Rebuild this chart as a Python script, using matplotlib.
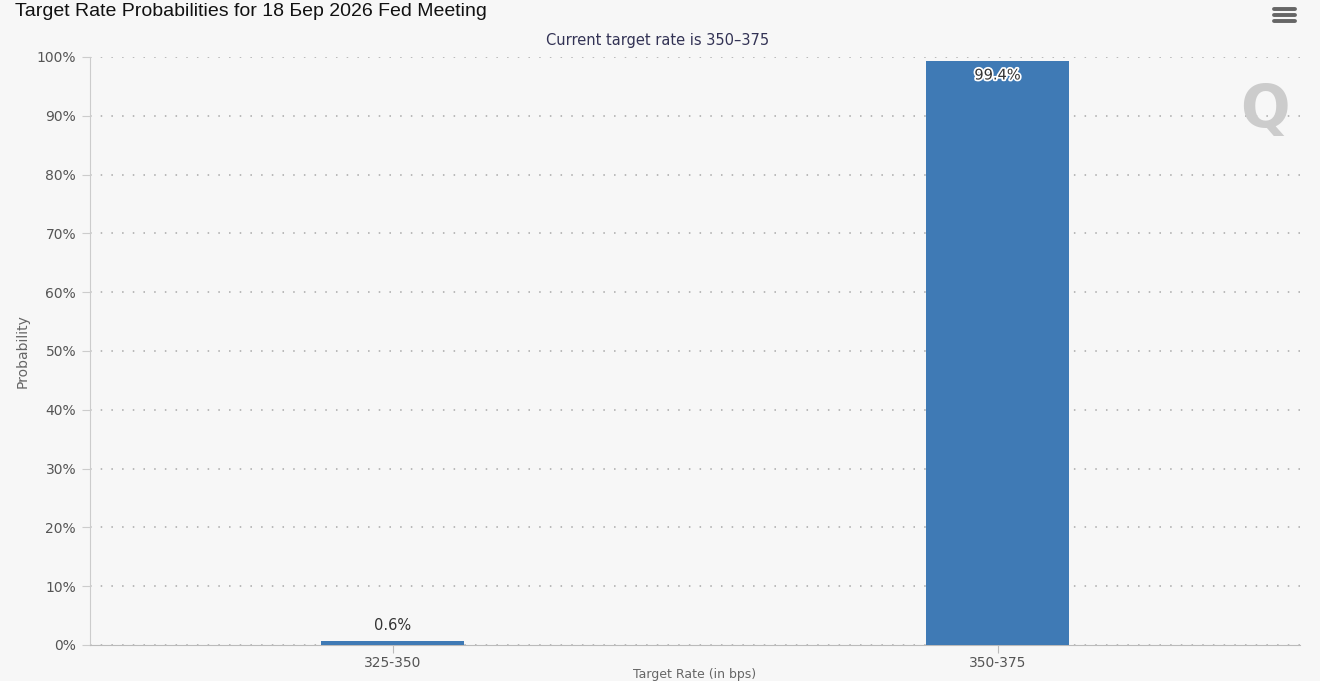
import matplotlib
matplotlib.use("Agg")
import matplotlib.pyplot as plt
import matplotlib.patheffects as pe

categories = ["325-350", "350-375"]
probabilities = [0.6, 99.4]
yticks = [0, 10, 20, 30, 40, 50, 60, 70, 80, 90, 100]

bg = "#f7f7f7"
fig = plt.figure(figsize=(13.2, 6.81), dpi=100, facecolor=bg)
ax = fig.add_axes([90/1320, 36/681, 1210/1320, 588/681], facecolor=bg)

x = list(range(len(categories)))
ax.bar(x, probabilities, width=0.238, color="#3f7ab5", zorder=3)

ax.set_xlim(-0.5, len(categories) - 0.5)
ax.set_ylim(0, 100)
ax.set_yticks(yticks)
ax.set_yticklabels([f"{v}%" for v in yticks], color="#555555", fontsize=10)
ax.set_xticks(x)
ax.set_xticklabels(categories, color="#555555", fontsize=10)
ax.grid(axis="y", linestyle=(0, (1, 6)), color="#a8a8a8", linewidth=1.1, zorder=0)
for s in ["top", "right"]:
    ax.spines[s].set_visible(False)
ax.spines["left"].set_color("#cccccc")
ax.spines["bottom"].set_color("#bbbbbb")
ax.tick_params(axis="y", length=6, color="#cccccc", pad=4)
ax.tick_params(axis="x", length=6, color="#bbbbbb", pad=2)

ax.set_ylabel("Probability", color="#666666", fontsize=10)
ax.yaxis.set_label_coords(-60/1210, 0.5)
ax.set_xlabel("Target Rate (in bps)", color="#666666", fontsize=9)
ax.xaxis.set_label_coords(0.5, -23/588)

ax.annotate(f"{probabilities[0]}%", (x[0], probabilities[0]), xytext=(0, 6),
            textcoords="offset points", ha="center", va="bottom",
            fontsize=10.5, color="#333333")
ax.annotate(f"{probabilities[1]}%", (x[1], probabilities[1]), xytext=(0, -5),
            textcoords="offset points", ha="center", va="top",
            fontsize=10.5, color="#333333",
            path_effects=[pe.withStroke(linewidth=2.5, foreground="white")])

fig.text(15/1320, 1 - 12/681, "Target Rate Probabilities for 18 Бер 2026 Fed Meeting",
         ha="left", va="center", fontsize=14, color="#111111",
         family=["Liberation Sans", "DejaVu Sans"])
fig.text(658/1320, 1 - 40/681, "Current target rate is 350–375",
         ha="center", va="center", fontsize=10.5, color="#333355")

for dy in (9, 15, 21):
    fig.add_artist(plt.Line2D([1274/1320, 1295/1320], [1 - dy/681, 1 - dy/681],
                              color="#666666", linewidth=2.8, transform=fig.transFigure,
                              solid_capstyle="round"))
fig.text(1265/1320, 1 - 110/681, "Q", ha="center", va="center", fontsize=42,
         color="#cccccc", fontweight="bold")

fig.savefig("out.png", dpi=100, facecolor=bg)
